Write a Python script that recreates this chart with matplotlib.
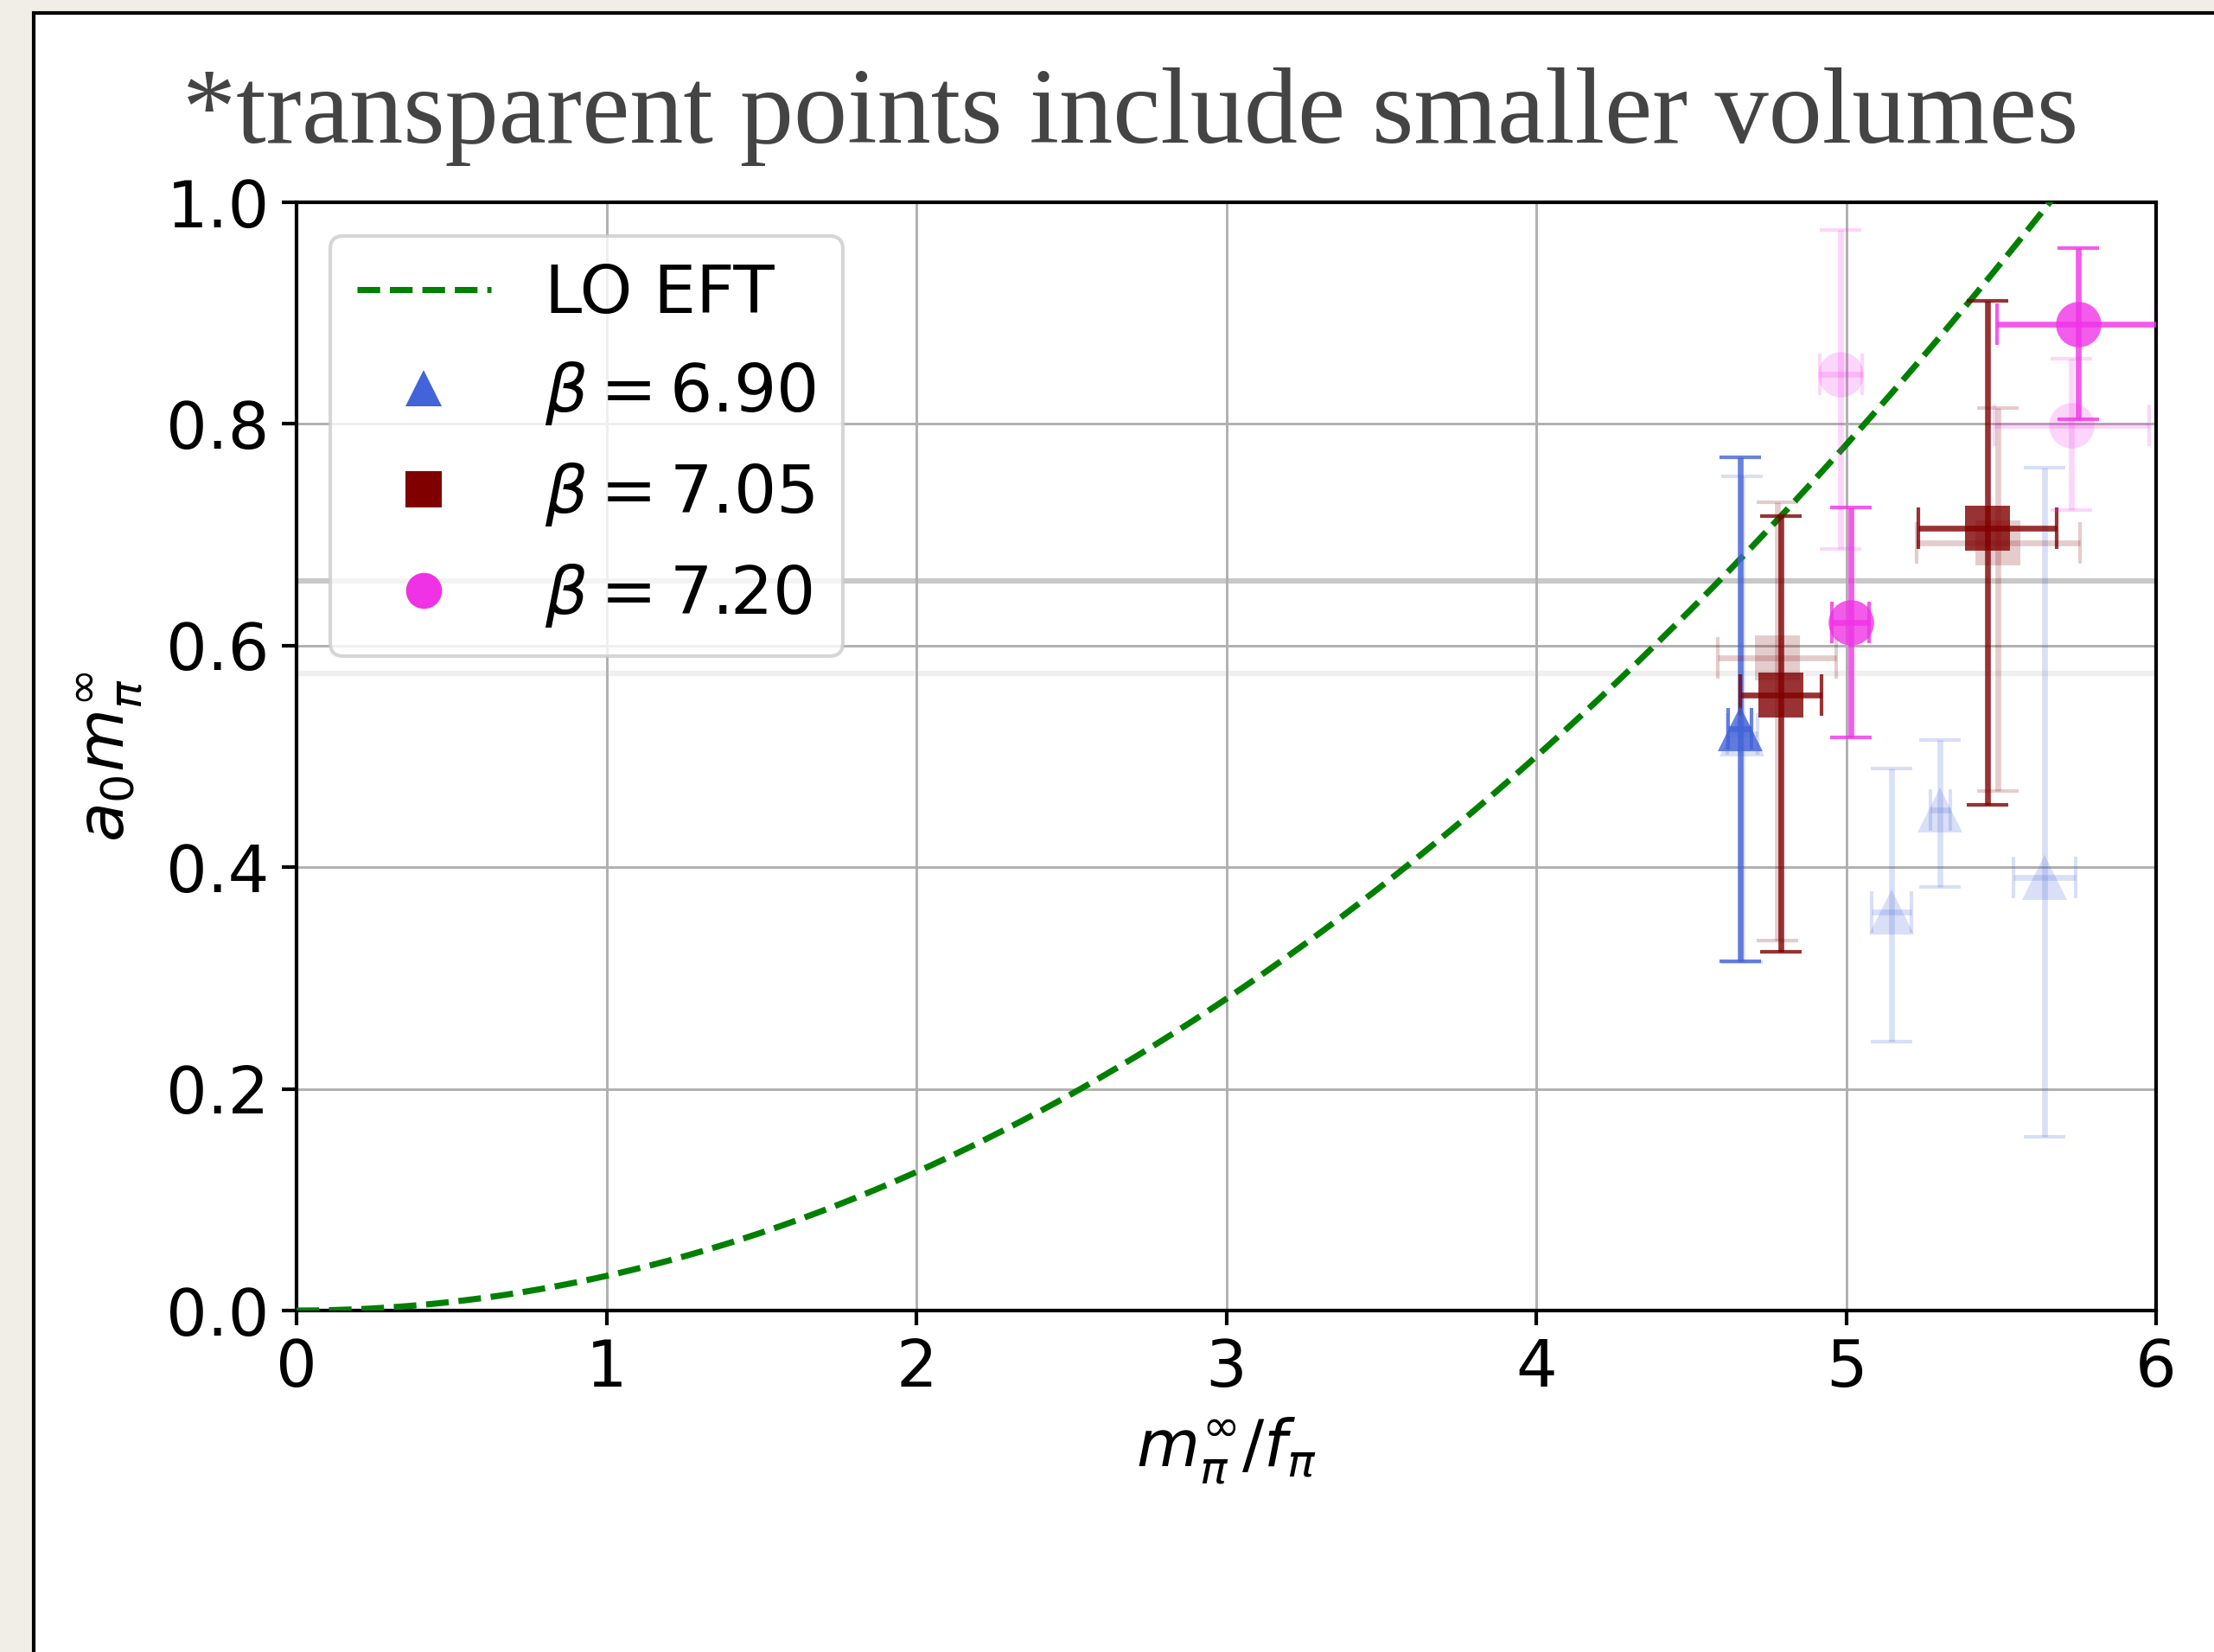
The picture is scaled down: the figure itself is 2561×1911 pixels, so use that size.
import numpy as np
import matplotlib.pyplot as plt
from matplotlib.patches import Rectangle
from matplotlib.lines import Line2D

# beta = 6.90 (largest volume)
x_690 = [4.657]
xerr_690 = [0.038]
y_690 = [0.525]
ylo_690 = [0.210]
yhi_690 = [0.245]

# beta = 7.05
x_705 = [4.790, 5.456]
xerr_705 = [0.131, 0.222]
y_705 = [0.5555, 0.7057]
ylo_705 = [0.232, 0.249]
yhi_705 = [0.1615, 0.2056]

# beta = 7.20
x_720 = [5.015, 5.748]
xerr_720 = [0.060, 0.261]
y_720 = [0.621, 0.890]
ylo_720 = [0.104, 0.086]
yhi_720 = [0.104, 0.069]

# transparent points (include smaller volumes)
xs_690 = [4.665, 5.147, 5.304, 5.641]
xserr_690 = [0.048, 0.064, 0.032, 0.100]
ys_690 = [0.520, 0.3594, 0.4519, 0.3905]
yslo_690 = [0.206, 0.117, 0.070, 0.234]
yshi_690 = [0.233, 0.130, 0.063, 0.370]

xs_705 = [4.777, 5.490]
xserr_705 = [0.190, 0.264]
ys_705 = [0.589, 0.693]
yslo_705 = [0.255, 0.224]
yshi_705 = [0.1405, 0.121]

xs_720 = [4.983, 5.728]
xserr_720 = [0.068, 0.250]
ys_720 = [0.8445, 0.7988]
yslo_720 = [0.157, 0.0765]
yshi_720 = [0.1305, 0.060]

# horizontal reference lines
hlines = [0.658, 0.575]
hline_colors = ['#c8c8c8', '#efefef']

labels = [r'$\beta = 6.90$', r'$\beta = 7.05$', r'$\beta = 7.20$']
colors = ['#4363d8', '#800000', '#f032e6']
markers = ['^', 's', 'o']

fs = 18
plt.rcParams['font.size'] = fs
plt.rcParams['mathtext.fontset'] = 'dejavusans'

fig = plt.figure(figsize=(2561/300, 1911/300), dpi=300)
fig.patch.set_facecolor('#f1eee8')
fig.patches.append(Rectangle((39/2561, -0.05), 1.1, 1 - 15/1911 + 0.05,
                             transform=fig.transFigure, facecolor='white',
                             edgecolor='black', linewidth=1.0, zorder=-10))

ax = fig.add_axes([343/2561, 1 - 1516/1911, (2494-343)/2561, (1516-234)/1911])

for yv, c in zip(hlines, hline_colors):
    ax.axhline(yv, color=c, lw=1.5, zorder=1)

xx = np.linspace(0, 6, 400)
ax.plot(xx, xx**2/32, '--', color='green', lw=1.7, zorder=3)

sets = [
    (x_690, xerr_690, y_690, ylo_690, yhi_690, xs_690, xserr_690, ys_690, yslo_690, yshi_690),
    (x_705, xerr_705, y_705, ylo_705, yhi_705, xs_705, xserr_705, ys_705, yslo_705, yshi_705),
    (x_720, xerr_720, y_720, ylo_720, yhi_720, xs_720, xserr_720, ys_720, yslo_720, yshi_720),
]
for (x, xe, y, lo, hi, xs, xse, ys, slo, shi), c, m in zip(sets, colors, markers):
    eb = ax.errorbar(x, y, xerr=xe, yerr=[lo, hi], fmt=m, color=c, ms=12.6,
                     elinewidth=1.6, capsize=5.8, capthick=1.0, alpha=0.8, zorder=4)
    eb[0].set_markeredgewidth(0)
    eb = ax.errorbar(xs, ys, xerr=xse, yerr=[slo, shi], fmt=m, color=c, ms=12.6,
                     elinewidth=1.6, capsize=5.8, capthick=1.0, alpha=0.2, zorder=4)
    eb[0].set_markeredgewidth(0)

ax.set_xlim(0, 6)
ax.set_ylim(0, 1.0)
ax.set_xticks(range(7))
ax.set_yticks([0.0, 0.2, 0.4, 0.6, 0.8, 1.0])
ax.set_yticklabels(['0.0', '0.2', '0.4', '0.6', '0.8', '1.0'])
ax.grid(True, color='#b0b0b0', lw=0.7)
ax.tick_params(length=4, width=1.0)
for s in ax.spines.values():
    s.set_linewidth(1.0)

ax.set_xlabel(r'$m_\pi^\infty/f_\pi$', fontsize=fs)
ax.set_ylabel(r'$a_0 m_\pi^\infty$', fontsize=fs, labelpad=6)

handles = [Line2D([], [], ls='--', color='green', lw=1.7, label='LO EFT')]
for c, m, lab in zip(colors, markers, labels):
    handles.append(Line2D([], [], ls='', marker=m, color=c, ms=10, mew=0, label=lab))
ax.legend(handles=handles, loc='upper left', fontsize=18.6)

fig.text(1308/2561, 1 - 165/1911, '*transparent points include smaller volumes',
         ha='center', va='baseline', fontsize=29.8, color='#444444',
         family='Liberation Serif')

fig.savefig('out.png', dpi=300)
